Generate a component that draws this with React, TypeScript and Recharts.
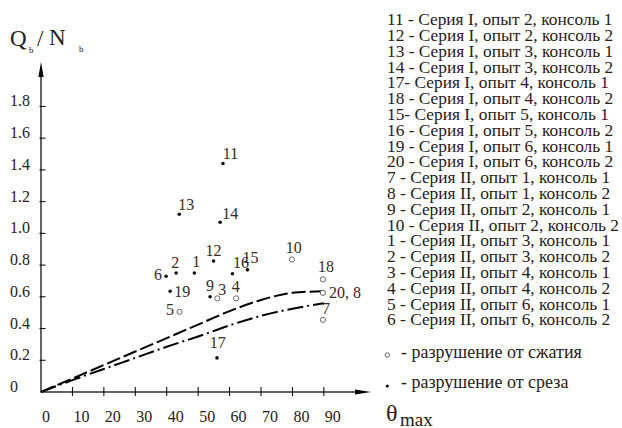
import React from 'react';
import { ComposedChart, Line, Scatter, XAxis, YAxis } from 'recharts';

// failure by shear (filled dots)
const shearIds = ['11', '13', '14', '12', '1', '2', '6', '16', '15', '19', '9', '17'];
const shearTheta = [57.9, 44.0, 57.0, 54.9, 48.8, 43.0, 39.8, 60.9, 65.7, 41.1, 53.8, 56.0];
const shearRatio = [1.44, 1.12, 1.07, 0.825, 0.75, 0.75, 0.73, 0.745, 0.77, 0.635, 0.6, 0.215];

// failure by compression (open circles)
const crushIds = ['3', '4', '5', '10', '18', '20, 8', '7'];
const crushTheta = [56.1, 62.1, 44.1, 79.8, 89.7, 89.7, 89.7];
const crushRatio = [0.59, 0.59, 0.505, 0.835, 0.71, 0.625, 0.455];

// the two design curves
const curveTheta = [0, 10, 20, 30, 40, 50, 60, 70, 80, 90];
const dashedCurve = [0, 0.085, 0.17, 0.255, 0.34, 0.425, 0.51, 0.58, 0.625, 0.635];
const dashDotCurve = [0, 0.075, 0.145, 0.215, 0.285, 0.35, 0.42, 0.48, 0.525, 0.56];

const xTicks = [0, 10, 20, 30, 40, 50, 60, 70, 80, 90];
const yTicks = [0, 0.2, 0.4, 0.6, 0.8, 1.0, 1.2, 1.4, 1.6, 1.8];
const xMax = 105;
const yMax = 2.08;

const legendLines = [
  '11 - Серия I, опыт 2, консоль 1',
  '12 - Серия I, опыт 2, консоль 2',
  '13 - Серия I, опыт 3, консоль 1',
  '14 - Серия I, опыт 3, консоль 2',
  '17- Серия I, опыт 4, консоль 1',
  '18 - Серия I, опыт 4, консоль 2',
  '15- Серия I, опыт 5, консоль 1',
  '16 - Серия I, опыт 5, консоль 2',
  '19 - Серия I, опыт 6, консоль 1',
  '20 - Серия I, опыт 6, консоль 2',
  '7 - Серия II, опыт 1, консоль 1',
  '8 - Серия II, опыт 1, консоль 2',
  '9 - Серия II, опыт 2, консоль 1',
  '10 - Серия II, опыт 2, консоль 2',
  '1 - Серия II, опыт 3, консоль 1',
  '2 - Серия II, опыт 3, консоль 2',
  '3 - Серия II, опыт 4, консоль 1',
  '4 - Серия II, опыт 4, консоль 2',
  '5 - Серия II, опыт 6, консоль 1',
  '6 - Серия II, опыт 6, консоль 2',
];
const crushNote = '- разрушение от сжатия';
const shearNote = '- разрушение от среза';

// where each point's number sits relative to its marker
const labelShift: Record<string, [number, number]> = {
  '11': [7.5, -10], '13': [7, -10], '14': [10, -9], '12': [0, -11], '1': [2, -12],
  '2': [-1, -11], '6': [-8, -2], '16': [8.5, -11], '15': [3, -12], '19': [12, 0],
  '9': [0, -11], '3': [5, -9], '4': [-0.5, -12], '5': [-9.5, -2], '17': [0.7, -15],
  '10': [2, -12], '18': [3, -13], '20, 8': [22, 0], '7': [3, -11],
};

const shearData = shearIds.map((id, i) => ({ id, x: shearTheta[i], y: shearRatio[i] }));
const crushData = crushIds.map((id, i) => ({ id, x: crushTheta[i], y: crushRatio[i] }));
const dashedData = curveTheta.map((x, i) => ({ x, y: dashedCurve[i] }));
const dashDotData = curveTheta.map((x, i) => ({ x, y: dashDotCurve[i] }));

// plot box, shared by the chart margins and the drawn axes
const W = 622;
const H = 428;
const box = { left: 41, top: 62, right: 371, bottom: 392 };
const sx = (v: number) => box.left + (v / xMax) * (box.right - box.left);
const sy = (v: number) => box.bottom - (v / yMax) * (box.bottom - box.top);

const serif = '"Liberation Serif", "DejaVu Serif", serif';
const ink = '#2a2016';
const numInk = '#3a2a18';

const YTick = ({ y, payload }: any) => (
  <text x={10} y={Number(y) - 5.5} fontSize={16} fontFamily={serif} fill={ink} dominantBaseline="central">
    {payload.value === 0 ? '0' : payload.value.toFixed(1)}
  </text>
);

const XTick = ({ x, y, payload }: any) => (
  <text x={Number(x) + 1} y={Number(y) + 24.5} fontSize={16} fontFamily={serif} fill={ink} dominantBaseline="central">
    {payload.value}
  </text>
);

const pointShape = (open: boolean) => (props: any) => {
  const { cx, cy, payload } = props;
  const [dx, dy] = labelShift[payload.id] ?? [6, -10];
  return (
    <g>
      {open ? (
        <circle cx={cx} cy={cy} r={2.6} fill="#fff" stroke="#666" strokeWidth={1} />
      ) : (
        <circle cx={cx} cy={cy} r={1.8} fill="#111" />
      )}
      <text x={cx + dx} y={cy + dy} fontSize={16} fontFamily={serif} fill={numInk}
        textAnchor="middle" dominantBaseline="central">
        {payload.id}
      </text>
    </g>
  );
};

export default function App() {
  const x0 = sx(0);
  const y0 = sy(0);
  const xEnd = sx(xMax);
  const yEnd = sy(yMax);
  return (
    <div style={{ position: 'absolute', left: 0, top: 0, width: W, height: H, background: '#fff' }}>
      <ComposedChart width={W} height={H}
        margin={{ top: box.top, right: W - box.right, bottom: H - box.bottom - 30, left: box.left - 30 }}>
        <XAxis type="number" dataKey="x" domain={[0, xMax]} ticks={xTicks} interval={0} height={30}
          tickSize={0} tickMargin={0} tick={<XTick />} tickLine={false} axisLine={false} />
        <YAxis type="number" dataKey="y" domain={[0, yMax]} ticks={yTicks} interval={0} width={30}
          tickSize={0} tickMargin={0} tick={<YTick />} tickLine={false} axisLine={false} />
        <Line data={dashedData} dataKey="y" type="monotone" stroke="#000" strokeWidth={2}
          strokeDasharray="14 4" dot={false} activeDot={false} isAnimationActive={false} />
        <Line data={dashDotData} dataKey="y" type="monotone" stroke="#000" strokeWidth={2}
          strokeDasharray="16 4 2 4" dot={false} activeDot={false} isAnimationActive={false} />
        <Scatter data={shearData} dataKey="y" shape={pointShape(false)} isAnimationActive={false} />
        <Scatter data={crushData} dataKey="y" shape={pointShape(true)} isAnimationActive={false} />
      </ComposedChart>
      <svg width={W} height={H} style={{ position: 'absolute', left: 0, top: 0, pointerEvents: 'none' }}>
        {/* axes as thin filled bars, tick marks, arrowheads */}
        <rect x={x0 - 0.6} y={y0 - 0.6} width={xEnd - 12 - x0} height={1.2} fill="#000" />
        <rect x={x0 - 0.6} y={yEnd + 12} width={1.2} height={y0 - yEnd - 12} fill="#000" />
        {xTicks.slice(1).map((t) => (
          <rect key={`xt${t}`} x={sx(t) - 0.5} y={y0 - 5} width={1} height={9} fill="#000" />
        ))}
        {yTicks.slice(1).map((t) => (
          <rect key={`yt${t}`} x={x0 - 1.5} y={sy(t) - 0.5} width={6} height={1} fill="#000" />
        ))}
        <polygon points={`${xEnd},${y0} ${xEnd - 16},${y0 - 2.6} ${xEnd - 16},${y0 + 2.6}`} fill="#000" />
        <polygon points={`${x0},${yEnd} ${x0 - 2.6},${yEnd + 15} ${x0 + 2.6},${yEnd + 15}`} fill="#000" />
        <g fontFamily={serif} fill={ink}>
          <text x={10} y={46} fontSize={23}>Q</text>
          <text x={29} y={53} fontSize={9}>b</text>
          <text x={37} y={46} fontSize={23}>/</text>
          <text x={49} y={45} fontSize={23}>N</text>
          <text x={79} y={52} fontSize={9}>b</text>
          <g transform="translate(387 0) scale(1.085 1)">
            {legendLines.map((s, i) => (
              <text key={s} x={0} y={20 + i * 15.8} fontSize={16} dominantBaseline="central">{s}</text>
            ))}
          </g>
          <circle cx={387.3} cy={355} r={2.2} fill="#fff" stroke="#666" strokeWidth={1} />
          <text x={401} y={352} fontSize={18} dominantBaseline="central">{crushNote}</text>
          <circle cx={387.3} cy={386} r={1.6} fill="#111" />
          <text x={401} y={381.5} fontSize={18} dominantBaseline="central">{shearNote}</text>
          <text x={386} y={421} fontSize={24}>θ</text>
          <text x={400} y={426} fontSize={19}>max</text>
        </g>
      </svg>
    </div>
  );
}
